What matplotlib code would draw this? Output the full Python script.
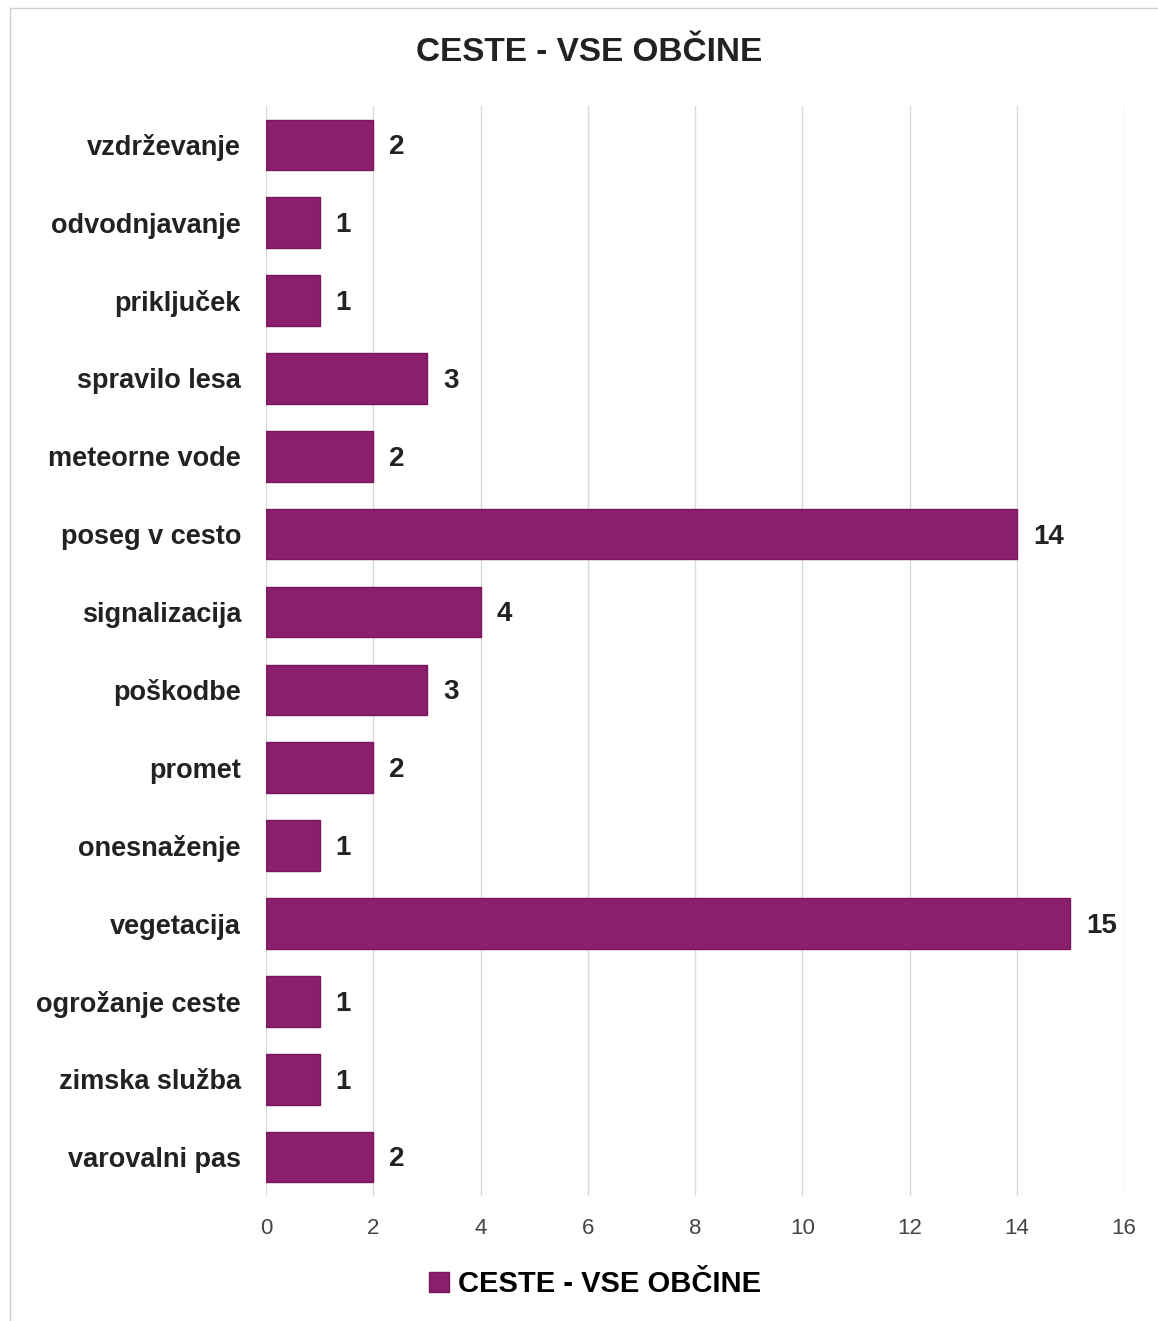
import numpy as np
from matplotlib import pyplot as plt
from matplotlib.patches import Rectangle

plt.rcParams['font.family'] = ['Liberation Sans', 'DejaVu Sans']

# podatki (od zgoraj navzdol)
kategorije = ['vzdrževanje', 'odvodnjavanje', 'priključek', 'spravilo lesa',
              'meteorne vode', 'poseg v cesto', 'signalizacija', 'poškodbe',
              'promet', 'onesnaženje', 'vegetacija', 'ogrožanje ceste',
              'zimska služba', 'varovalni pas']
vrednosti = [2, 1, 1, 3, 2, 14, 4, 3, 2, 1, 15, 1, 1, 2]
x_ticks = [0, 2, 4, 6, 8, 10, 12, 14, 16]

barva = '#8a1f6c'

fig = plt.figure(figsize=(11.58, 13.21), dpi=100)
ax = fig.add_axes([0.2297, 0.0946, 0.741, 0.8252])

y = np.arange(len(kategorije))
ax.barh(y, vrednosti, height=0.65, color=barva, edgecolor='#7a165e',
        linewidth=1, label='CESTE - VSE OBČINE', zorder=3)

for i, v in enumerate(vrednosti):
    ax.text(v + 0.3, i + 0.03, str(v), va='center', ha='left',
            fontsize=20, fontweight='bold', color='#222222')

ax.set_ylim(len(kategorije) - 0.5, -0.5)
ax.set_xlim(0, 16)
ax.set_xticks(x_ticks)
ax.set_yticks(y)
ax.set_yticklabels(kategorije, fontsize=19.5, fontweight='bold', color='#222222')
ax.tick_params(axis='x', labelsize=16, colors='#444444', length=0, pad=16)
ax.tick_params(axis='y', length=0, pad=18)
ax.grid(axis='x', color='#d9d9d9', linewidth=1, zorder=0)
for s in ax.spines.values():
    s.set_visible(False)

fig.text(0.509, 0.960, 'CESTE - VSE OBČINE', ha='center', va='center',
         fontsize=24, fontweight='bold', color='#222222')

fig.legend(loc='center', bbox_to_anchor=(0.514, 0.028), frameon=False,
           prop={'weight': 'bold', 'size': 21},
           handlelength=0.7, handleheight=0.7, handletextpad=0.3)

# okvir grafa
fig.patches.append(Rectangle((0.009, -0.01), 1.1, 1.0039, transform=fig.transFigure,
                             fill=False, edgecolor='#cfcfcf', linewidth=1))

plt.savefig('out.png', dpi=100)
